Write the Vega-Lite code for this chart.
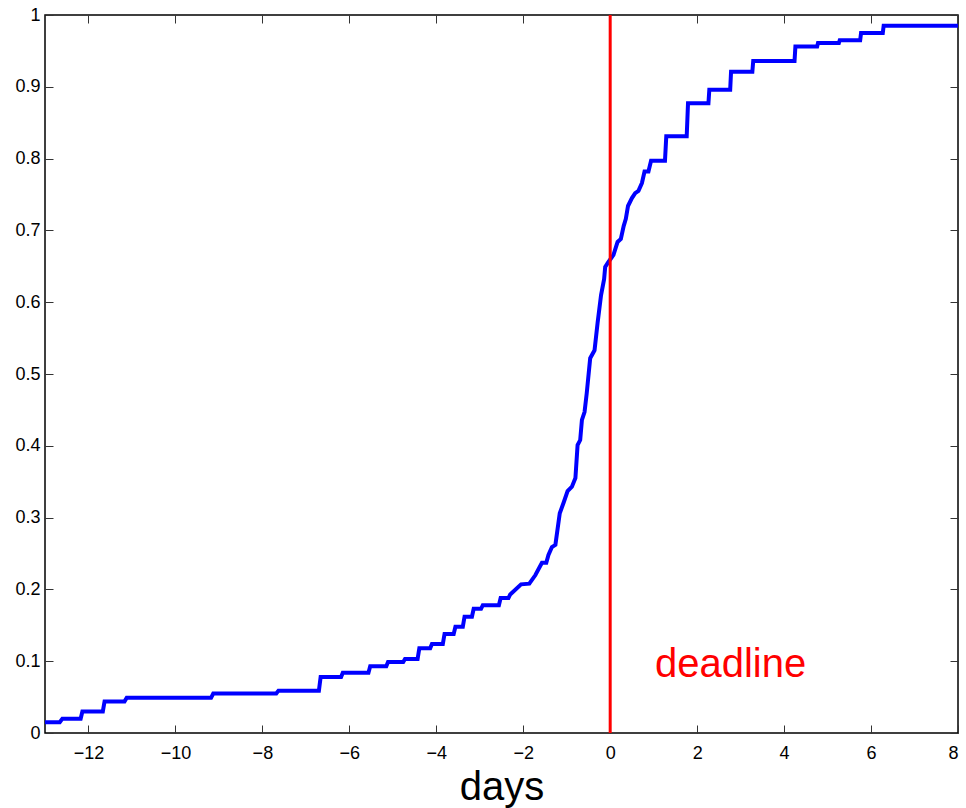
{
  "$schema": "https://vega.github.io/schema/vega-lite/v6.json",
  "autosize": "none",
  "width": 913,
  "height": 718,
  "padding": {"left": 45, "top": 15, "right": 8, "bottom": 75},
  "background": "white",
  "config": {
    "view": {"stroke": "black", "strokeWidth": 1.5},
    "font": "Liberation Sans",
    "axis": {"grid": false, "domain": false, "tickColor": "#333333", "tickSize": -8, "tickWidth": 1, "labelFont": "Liberation Sans", "labelFontSize": 18, "labelColor": "black", "titleFont": "Liberation Sans", "titleColor": "black", "titleFontWeight": "normal"}
  },
  "datasets": {
    "curve": [
      {"i": 0, "day": -13, "frac": 0.015},
      {"i": 1, "day": -12.66, "frac": 0.015}, {"i": 2, "day": -12.6, "frac": 0.02},
      {"i": 3, "day": -12.18, "frac": 0.02}, {"i": 4, "day": -12.14, "frac": 0.03},
      {"i": 5, "day": -11.67, "frac": 0.03}, {"i": 6, "day": -11.63, "frac": 0.044},
      {"i": 7, "day": -11.17, "frac": 0.044}, {"i": 8, "day": -11.12, "frac": 0.049},
      {"i": 9, "day": -9.18, "frac": 0.049}, {"i": 10, "day": -9.13, "frac": 0.055},
      {"i": 11, "day": -7.68, "frac": 0.055}, {"i": 12, "day": -7.63, "frac": 0.059},
      {"i": 13, "day": -6.7, "frac": 0.059}, {"i": 14, "day": -6.66, "frac": 0.078},
      {"i": 15, "day": -6.19, "frac": 0.078}, {"i": 16, "day": -6.15, "frac": 0.084},
      {"i": 17, "day": -5.56, "frac": 0.084}, {"i": 18, "day": -5.52, "frac": 0.093},
      {"i": 19, "day": -5.15, "frac": 0.093}, {"i": 20, "day": -5.11, "frac": 0.099},
      {"i": 21, "day": -4.76, "frac": 0.099}, {"i": 22, "day": -4.72, "frac": 0.103},
      {"i": 23, "day": -4.43, "frac": 0.103}, {"i": 24, "day": -4.39, "frac": 0.118},
      {"i": 25, "day": -4.14, "frac": 0.118}, {"i": 26, "day": -4.1, "frac": 0.124},
      {"i": 27, "day": -3.85, "frac": 0.124}, {"i": 28, "day": -3.81, "frac": 0.138},
      {"i": 29, "day": -3.6, "frac": 0.138}, {"i": 30, "day": -3.56, "frac": 0.148},
      {"i": 31, "day": -3.39, "frac": 0.148}, {"i": 32, "day": -3.35, "frac": 0.162},
      {"i": 33, "day": -3.18, "frac": 0.162}, {"i": 34, "day": -3.14, "frac": 0.173},
      {"i": 35, "day": -2.97, "frac": 0.173}, {"i": 36, "day": -2.93, "frac": 0.178},
      {"i": 37, "day": -2.56, "frac": 0.178}, {"i": 38, "day": -2.52, "frac": 0.188},
      {"i": 39, "day": -2.34, "frac": 0.188},
      {"i": 40, "day": -2.3, "frac": 0.193},
      {"i": 41, "day": -2.05, "frac": 0.207},
      {"i": 42, "day": -1.86, "frac": 0.208},
      {"i": 43, "day": -1.72, "frac": 0.22},
      {"i": 44, "day": -1.57, "frac": 0.237},
      {"i": 45, "day": -1.47, "frac": 0.237},
      {"i": 46, "day": -1.42, "frac": 0.248},
      {"i": 47, "day": -1.34, "frac": 0.259},
      {"i": 48, "day": -1.26, "frac": 0.262},
      {"i": 49, "day": -1.16, "frac": 0.306},
      {"i": 50, "day": -1.07, "frac": 0.321},
      {"i": 51, "day": -0.98, "frac": 0.337},
      {"i": 52, "day": -0.88, "frac": 0.343},
      {"i": 53, "day": -0.8, "frac": 0.355},
      {"i": 54, "day": -0.75, "frac": 0.401},
      {"i": 55, "day": -0.69, "frac": 0.408},
      {"i": 56, "day": -0.65, "frac": 0.436},
      {"i": 57, "day": -0.59, "frac": 0.447},
      {"i": 58, "day": -0.54, "frac": 0.473},
      {"i": 59, "day": -0.46, "frac": 0.522},
      {"i": 60, "day": -0.36, "frac": 0.533},
      {"i": 61, "day": -0.29, "frac": 0.571},
      {"i": 62, "day": -0.21, "frac": 0.61},
      {"i": 63, "day": -0.14, "frac": 0.632},
      {"i": 64, "day": -0.115, "frac": 0.649},
      {"i": 65, "day": -0.04, "frac": 0.656},
      {"i": 66, "day": 0.076, "frac": 0.666},
      {"i": 67, "day": 0.17, "frac": 0.684},
      {"i": 68, "day": 0.245, "frac": 0.688},
      {"i": 69, "day": 0.31, "frac": 0.706},
      {"i": 70, "day": 0.36, "frac": 0.716},
      {"i": 71, "day": 0.41, "frac": 0.734},
      {"i": 72, "day": 0.5, "frac": 0.745},
      {"i": 73, "day": 0.575, "frac": 0.752},
      {"i": 74, "day": 0.65, "frac": 0.755},
      {"i": 75, "day": 0.73, "frac": 0.766},
      {"i": 76, "day": 0.79, "frac": 0.782},
      {"i": 77, "day": 0.88, "frac": 0.782},
      {"i": 78, "day": 0.94, "frac": 0.797},
      {"i": 79, "day": 1.26, "frac": 0.797},
      {"i": 80, "day": 1.29, "frac": 0.831},
      {"i": 81, "day": 1.76, "frac": 0.831},
      {"i": 82, "day": 1.79, "frac": 0.877},
      {"i": 83, "day": 2.26, "frac": 0.877},
      {"i": 84, "day": 2.28, "frac": 0.896},
      {"i": 85, "day": 2.76, "frac": 0.896},
      {"i": 86, "day": 2.78, "frac": 0.921},
      {"i": 87, "day": 3.27, "frac": 0.921},
      {"i": 88, "day": 3.29, "frac": 0.936},
      {"i": 89, "day": 4.24, "frac": 0.936},
      {"i": 90, "day": 4.26, "frac": 0.956},
      {"i": 91, "day": 4.76, "frac": 0.956},
      {"i": 92, "day": 4.78, "frac": 0.961},
      {"i": 93, "day": 5.26, "frac": 0.961},
      {"i": 94, "day": 5.28, "frac": 0.965},
      {"i": 95, "day": 5.75, "frac": 0.965},
      {"i": 96, "day": 5.77, "frac": 0.975},
      {"i": 97, "day": 6.27, "frac": 0.975},
      {"i": 98, "day": 6.29, "frac": 0.985},
      {"i": 99, "day": 8, "frac": 0.985}
    ],
    "deadline": [{"day": 0, "label": "deadline", "labelDay": 1.03, "labelFrac": 0.078}]
  },
  "layer": [
    {
      "data": {"name": "curve"},
      "mark": {"type": "line", "color": "#0000ff", "strokeWidth": 4, "strokeJoin": "miter", "clip": true},
      "encoding": {
        "x": {"field": "day", "type": "quantitative", "scale": {"domain": [-13, 8], "nice": false, "zero": false},
              "axis": {"orient": "bottom", "values": [-12, -10, -8, -6, -4, -2, 0, 2, 4, 6, 8], "labelPadding": 19, "title": "days", "titleFontSize": 40, "titlePadding": 5}},
        "y": {"field": "frac", "type": "quantitative", "scale": {"domain": [0, 1], "nice": false},
              "axis": {"orient": "left", "values": [0, 0.1, 0.2, 0.3, 0.4, 0.5, 0.6, 0.7, 0.8, 0.9, 1], "format": ".1~f", "labelPadding": 13, "title": null}},
        "order": {"field": "i", "type": "quantitative"}
      }
    },
    {
      "data": {"name": "deadline"},
      "mark": {"type": "rule", "color": "#ff0000", "strokeWidth": 3},
      "encoding": {
        "x": {"field": "day", "type": "quantitative", "scale": {"domain": [-13, 8], "nice": false, "zero": false},
              "axis": {"orient": "top", "values": [-12, -10, -8, -6, -4, -2, 0, 2, 4, 6, 8], "labels": false, "title": null}}
      }
    },
    {
      "data": {"name": "deadline"},
      "mark": {"type": "text", "color": "#ff0000", "fontSize": 40, "font": "Liberation Sans", "align": "left", "baseline": "alphabetic"},
      "encoding": {
        "x": {"field": "labelDay", "type": "quantitative", "axis": null},
        "y": {"field": "labelFrac", "type": "quantitative",
              "axis": {"orient": "right", "values": [0, 0.1, 0.2, 0.3, 0.4, 0.5, 0.6, 0.7, 0.8, 0.9, 1], "labels": false, "title": null}},
        "text": {"field": "label"}
      }
    }
  ],
  "resolve": {"axis": {"x": "independent", "y": "independent"}}
}
